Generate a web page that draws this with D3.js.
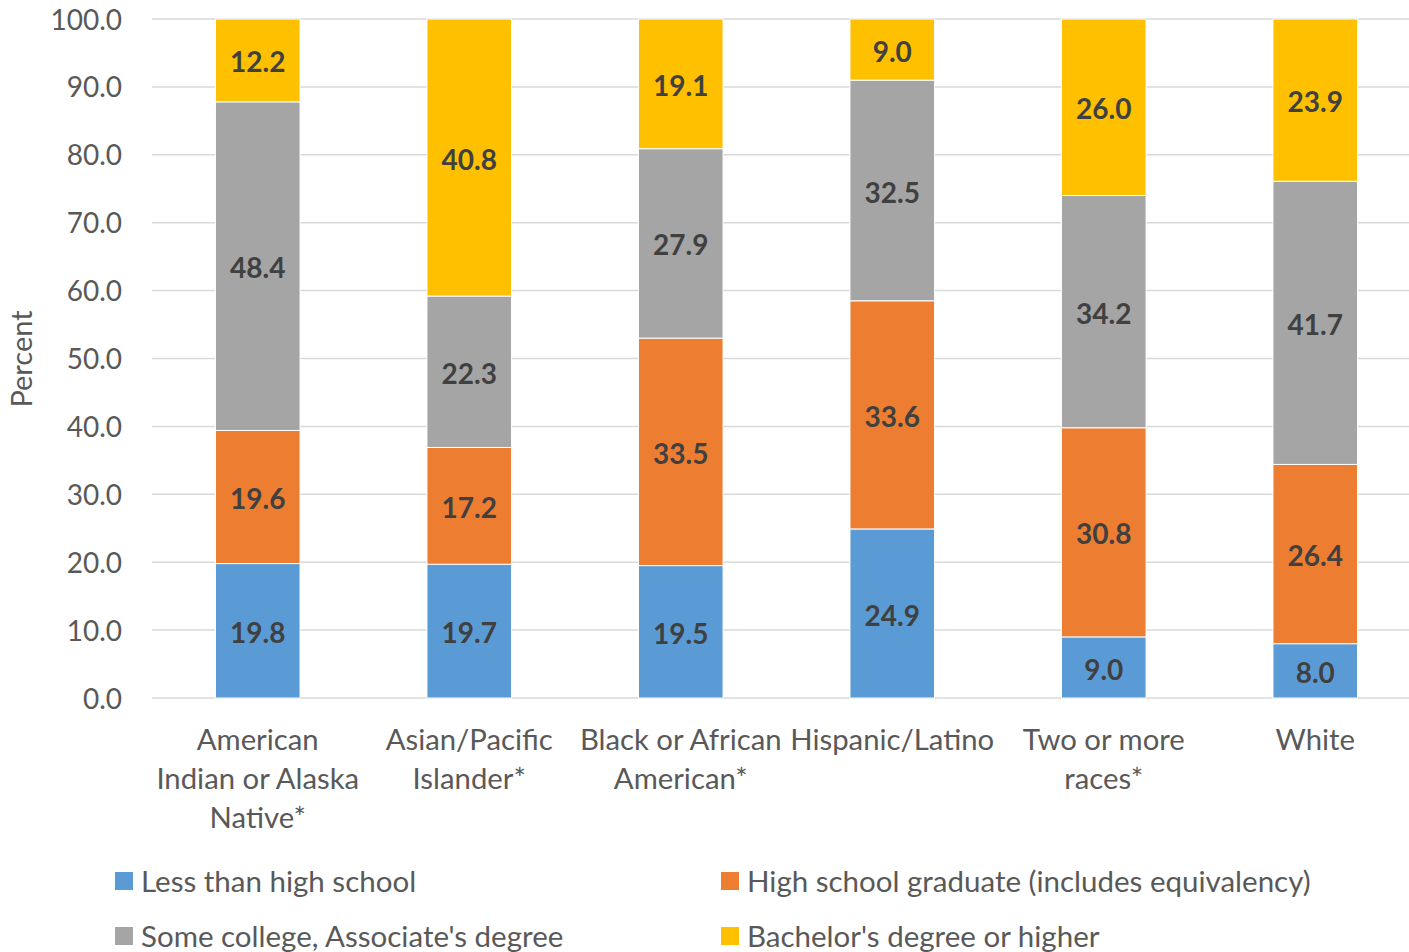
<!DOCTYPE html>
<html><head><meta charset="utf-8">
<script src="https://cdn.jsdelivr.net/npm/d3@7"></script>
<style>html,body{margin:0;padding:0;background:#fff;}svg{display:block;}</style>
</head><body>
<svg id="chart" width="1409" height="952"></svg>
<script>
const categories = ["American Indian or Alaska Native*", "Asian/Pacific Islander*", "Black or African American*", "Hispanic/Latino", "Two or more races*", "White"];
const categoryLines = [["American", "Indian or Alaska", "Native*"], ["Asian/Pacific", "Islander*"], ["Black or African", "American*"], ["Hispanic/Latino"], ["Two or more", "races*"], ["White"]];
const seriesNames = ["Less than high school", "High school graduate (includes equivalency)", "Some college, Associate's degree", "Bachelor's degree or higher"];
const lessThanHS = [19.8, 19.7, 19.5, 24.9, 9.0, 8.0];
const hsGraduate = [19.6, 17.2, 33.5, 33.6, 30.8, 26.4];
const someCollege = [48.4, 22.3, 27.9, 32.5, 34.2, 41.7];
const bachelors = [12.2, 40.8, 19.1, 9.0, 26.0, 23.9];
const yTicks = [0, 10, 20, 30, 40, 50, 60, 70, 80, 90, 100];
const colors = ["#5B9BD5", "#ED7D31", "#A5A5A5", "#FFC000"];

const seriesValues = [lessThanHS, hsGraduate, someCollege, bachelors];
const table = categories.map((c, i) => {
  const row = {category: c};
  seriesNames.forEach((s, j) => row[s] = seriesValues[j][i]);
  return row;
});

const svg = d3.select("#chart");
const font = "Lato, 'Open Sans', sans-serif";
const x = d3.scaleBand().domain(categories).range([152, 1421]).paddingInner(0.6).paddingOuter(0.3);
const y = d3.scaleLinear().domain([0, 100]).range([698, 19]);

// gridlines
svg.append("g").selectAll("line").data(yTicks).join("line")
  .attr("x1", 152).attr("x2", 1409)
  .attr("y1", d => y(d)).attr("y2", d => y(d))
  .attr("stroke", "#D9D9D9").attr("stroke-width", 1.5);

// y axis labels
const yAxis = d3.axisLeft(y).tickValues(yTicks).tickFormat(d3.format(".1f")).tickSize(0).tickPadding(0);
const ya = svg.append("g").attr("transform", "translate(122,0)").call(yAxis);
ya.select(".domain").remove();
ya.selectAll("text").attr("font-family", font).attr("font-size", 28).attr("fill", "#595959").attr("dy", "0.36em");

// y title
svg.append("text").attr("transform", "translate(32,359) rotate(-90)")
  .attr("text-anchor", "middle").attr("font-family", font).attr("font-size", 29).attr("fill", "#595959").text("Percent");

// stacks
const stack = d3.stack().keys(seriesNames);
const stacked = stack(table);
const layers = svg.append("g").selectAll("g").data(stacked).join("g").attr("fill", (d, i) => colors[i]);
layers.selectAll("rect").data(d => d).join("rect")
  .attr("x", d => x(d.data.category))
  .attr("width", x.bandwidth())
  .attr("y", d => y(d[1]))
  .attr("height", d => y(d[0]) - y(d[1]))
  .attr("stroke", "#fff").attr("stroke-width", 1);

// labels
const labels = svg.append("g");
stacked.forEach(layer => {
  labels.selectAll(null).data(layer).join("text")
    .attr("x", d => x(d.data.category) + x.bandwidth() / 2)
    .attr("y", d => y((d[0] + d[1]) / 2) + 2)
    .attr("dy", "0.36em")
    .attr("text-anchor", "middle")
    .attr("font-family", font).attr("font-weight", "bold").attr("font-size", 28)
    .attr("fill", "#404040")
    .text(d => d3.format(".1f")(d[1] - d[0]));
});

// x axis labels
const xa = svg.append("g");
categories.forEach((c, i) => {
  const t = xa.append("text").attr("text-anchor", "middle")
    .attr("font-family", font).attr("font-size", 29.3).attr("fill", "#595959");
  categoryLines[i].forEach((line, k) => {
    t.append("tspan").attr("x", x(c) + x.bandwidth() / 2).attr("y", 750 + k * 39).text(line);
  });
});

// legend
const legendPos = [[115, 881], [721, 881], [115, 936], [721, 936]];
const lg = svg.append("g");
seriesNames.forEach((s, i) => {
  const g = lg.append("g").attr("transform", `translate(${legendPos[i][0]},${legendPos[i][1]})`);
  g.append("rect").attr("x", 0).attr("y", -9).attr("width", 18).attr("height", 18).attr("fill", colors[i]);
  g.append("text").attr("x", 26).attr("y", 0).attr("dy", "0.36em")
    .attr("font-family", font).attr("font-size", 29.5).attr("fill", "#595959").text(s);
});
</script>
</body></html>
